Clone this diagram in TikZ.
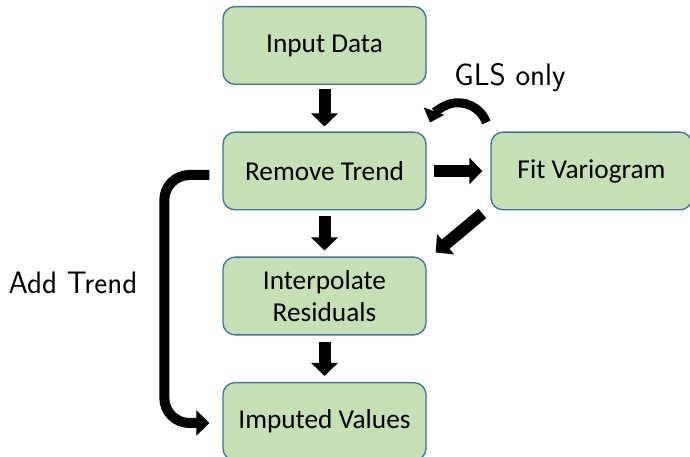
\documentclass[tikz,border=0pt]{standalone}
\usepackage{fontspec}
\usepackage{tikz}
\usetikzlibrary{arrows.meta, calc}
\newfontfamily\boxfont{Carlito}
\definecolor{cgreen}{HTML}{C5E0B4}
\definecolor{cborder}{HTML}{41719C}

\begin{document}
\begin{tikzpicture}[x=0.03cm, y=0.03cm,
  stepbox/.style={draw=cborder, line width=0.04cm, fill=cgreen, rounded corners=0.36cm,
    minimum width=6.09cm, minimum height=2.33cm, align=center, inner sep=0pt,
    font=\boxfont\fontsize{23.3}{27}\selectfont},
  lbl/.style={font=\sffamily\fontsize{26.5}{31}\selectfont},
  blockarrow/.style={line width=0.36cm, -{Triangle[length=0.39cm, width=0.78cm]}},
  bentarrow/.style={line width=0.3cm, -{Triangle[length=0.39cm, width=0.75cm]}},
  looparrow/.style={line width=0.27cm, -{Triangle[length=0.36cm, width=0.63cm]}}]
  \useasboundingbox (0,0) rectangle (690,-457);

  % Boxes
  \node[stepbox] (id) at (324.5,-45.5) {Input Data};
  \node[stepbox] (rt) at (324.5,-171) {Remove Trend};
  \node[stepbox, minimum width=6.03cm] (fv) at (591.5,-171) {Fit Variogram};
  \node[stepbox] (ir) at (324.5,-296) {Interpolate\\Residuals};
  \node[stepbox] (iv) at (324.5,-421.5) {Imputed Values};

  % Labels
  \node[lbl] (glslbl) at (510,-78) {GLS only};
  \node[lbl] (addlbl) at (73,-283) {Add Trend};

  % Main flow
  \draw[blockarrow, shorten <=0.12cm, shorten >=0.15cm] (id) -- (rt);
  \draw[blockarrow, shorten <=0.18cm, shorten >=0.18cm] (rt) -- (ir);
  \draw[blockarrow, shorten <=0.18cm, shorten >=0.18cm] (ir) -- (iv);
  \draw[blockarrow, shorten <=0.21cm, shorten >=0.24cm] (rt) -- (fv);
  \draw[blockarrow] ([shift={(-8,-3)}]fv.south west) -- ([shift={(9,4)}]ir.north east);

  % GLS loop back
  \draw[looparrow] ([shift={(-4,9)}]fv.north west) arc[start angle=20, end angle=160, radius=0.9cm];

  % Add trend back in
  \draw[bentarrow, rounded corners=0.75cm] ([shift={(-13,-4)}]rt.west)
    -| ([shift={(-58,-1.5)}]iv.west) -- ([shift={(-13,-1.5)}]iv.west);
\end{tikzpicture}
\end{document}
